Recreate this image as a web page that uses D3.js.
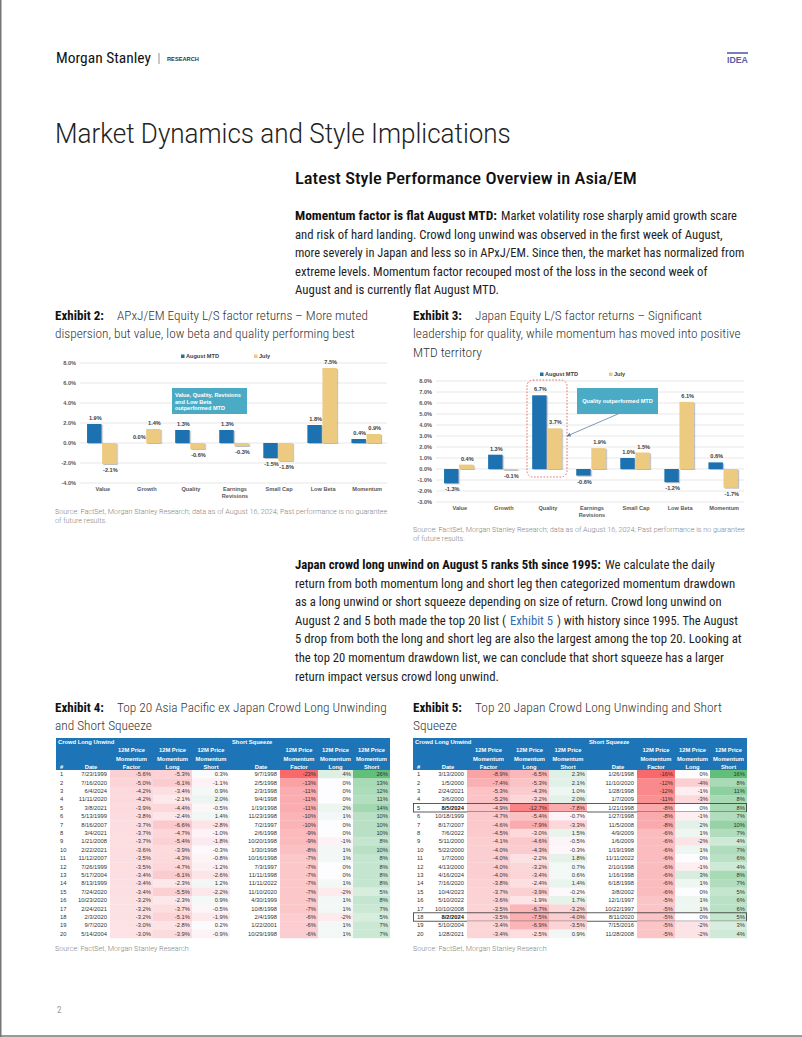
<!DOCTYPE html>
<html><head><meta charset="utf-8">
<script src="https://cdn.jsdelivr.net/npm/d3@7"></script>
<style>html,body{margin:0;padding:0;background:#fff;}svg{display:block;}</style>
</head><body>
<script>
// ---------------- DATA ----------------
const factorCats = ["Value","Growth","Quality","Earnings Revisions","Small Cap","Low Beta","Momentum"];
const seriesNames = ["August MTD","July"];
const apxjAugust = [1.9, 0.0, 1.3, 1.3, -1.5, 1.8, 0.4];
const apxjJuly   = [-2.1, 1.4, -0.6, -0.3, -1.8, 7.5, 0.9];
const apxjTicks  = [-4, -2, 0, 2, 4, 6, 8];
const japanAugust = [-1.3, 1.3, 6.7, -0.6, 1.0, -1.2, 0.6];
const japanJuly   = [0.4, -0.1, 3.7, 1.9, 1.5, 6.1, -1.7];
const japanTicks  = [-3, -2, -1, 0, 1, 2, 3, 4, 5, 6, 7, 8];

// Exhibit 4: APxJ
const apxjLongDates  = ["7/23/1999","7/16/2020","6/4/2024","11/11/2020","3/8/2021","5/13/1999","8/16/2007","3/4/2021","1/21/2008","2/22/2021","11/12/2007","7/26/1999","5/17/2004","8/13/1999","7/24/2020","10/23/2020","2/24/2021","2/3/2020","9/7/2020","5/14/2004"];
const apxjLongFactor = [-5.6,-5.0,-4.2,-4.2,-3.9,-3.8,-3.7,-3.7,-3.7,-3.6,-3.5,-3.5,-3.4,-3.4,-3.4,-3.2,-3.2,-3.2,-3.0,-3.0];
const apxjLongLong   = [-5.3,-6.1,-3.4,-2.1,-4.4,-2.4,-6.6,-4.7,-5.4,-3.9,-4.3,-4.7,-6.1,-2.3,-5.5,-2.3,-3.7,-5.1,-2.8,-3.9];
const apxjLongShort  = [0.3,-1.1,0.9,2.0,-0.5,1.4,-2.8,-1.0,-1.8,-0.3,-0.8,-1.2,-2.6,1.2,-2.2,0.9,-0.5,-1.9,0.2,-0.9];
const apxjSqDates    = ["9/7/1998","2/5/1998","2/3/1998","9/4/1998","1/19/1998","11/23/1998","7/2/1997","2/6/1998","10/20/1998","1/30/1998","10/16/1998","7/3/1997","11/11/1998","11/11/2022","11/10/2020","4/30/1999","10/8/1998","2/4/1998","1/22/2001","10/29/1998"];
const apxjSqFactor   = [-23,-13,-11,-11,-11,-10,-10,-9,-9,-8,-7,-7,-7,-7,-7,-7,-7,-6,-6,-6];
const apxjSqLong     = [4,0,0,0,2,1,0,0,-1,1,1,0,0,1,-2,1,1,-2,1,1];
const apxjSqShort    = [26,13,12,11,14,10,10,10,8,10,8,8,8,8,5,8,7,5,7,7];

// Exhibit 5: Japan
const japanLongDates  = ["3/13/2000","1/5/2000","2/24/2021","3/6/2000","8/5/2024","10/18/1999","8/17/2007","7/6/2022","5/11/2000","5/22/2000","1/7/2000","4/13/2000","4/16/2024","7/16/2020","10/4/2023","5/10/2022","10/10/2008","8/2/2024","5/10/2004","1/28/2021"];
const japanLongFactor = [-8.9,-7.4,-5.3,-5.2,-4.9,-4.7,-4.6,-4.5,-4.1,-4.0,-4.0,-4.0,-4.0,-3.8,-3.7,-3.6,-3.5,-3.5,-3.4,-3.4];
const japanLongLong   = [-6.5,-5.3,-4.3,-3.2,-12.7,-5.4,-7.9,-3.0,-4.6,-4.3,-2.2,-3.2,-3.4,-2.4,-3.9,-1.9,-6.7,-7.5,-6.9,-2.5];
const japanLongShort  = [2.3,2.1,1.0,2.0,-7.8,-0.7,-3.3,1.5,-0.5,-0.3,1.8,0.7,0.6,1.4,-0.2,1.7,-3.2,-4.0,-3.5,0.9];
const japanSqDates    = ["1/26/1998","11/10/2020","1/28/1998","1/7/2009","1/21/1998","1/27/1998","11/5/2008","4/9/2009","1/6/2009","1/19/1998","11/11/2022","2/10/1998","1/16/1998","6/18/1998","3/8/2002","12/1/1997","10/22/1997","8/11/2020","7/15/2016","11/28/2008"];
const japanSqFactor   = [-16,-12,-12,-11,-8,-8,-8,-6,-6,-6,-6,-6,-6,-6,-6,-5,-5,-5,-5,-5];
const japanSqLong     = [0,-4,-1,-3,0,-1,2,1,-2,1,0,-1,3,1,0,1,1,0,-2,-2];
const japanSqShort    = [16,8,11,8,8,7,10,7,4,7,6,4,8,7,5,6,6,5,3,4];
const japanHighlightRows = [5, 18];

// ---------------- STYLE ----------------
const W = 802, H = 1037;
const BLUE = "#1a71b0", GOLD = "#eccb81", TEAL = "#4cabc4", HDR = "#1d74b6";
const chartFont = "'Liberation Sans', Arial, sans-serif";
const pct = f => v => d3.format(f)(v).replace("\u2212", "-") + "%";

// pick a narrow body font if one is installed
function installed(name) {
  const c = document.createElement("canvas").getContext("2d");
  const s = "Momentum factor is flat August MTD 0123456789";
  c.font = "20px monospace"; const a = c.measureText(s).width;
  c.font = `20px '${name}', monospace`; const b = c.measureText(s).width;
  return Math.abs(a - b) > 0.5;
}
const narrow = ["Roboto Condensed", "Liberation Sans Narrow", "Open Sans Condensed", "DejaVu Sans Condensed"].find(installed);
const bodyFont = (narrow ? `'${narrow}', ` : "") + "Roboto, 'Open Sans', sans-serif";

const svg = d3.select("body").append("svg").attr("width", W).attr("height", H)
  .attr("viewBox", `0 0 ${W} ${H}`);
svg.append("rect").attr("width", W).attr("height", H).attr("fill", "#fff");
const defs = svg.append("defs");
const f = defs.append("filter").attr("id","shadow").attr("x","-20%").attr("y","-20%").attr("width","150%").attr("height","150%");
f.append("feDropShadow").attr("dx",1.2).attr("dy",1).attr("stdDeviation",0.7).attr("flood-color","#888").attr("flood-opacity",0.55);
defs.append("marker").attr("id","arrow").attr("viewBox","0 0 10 10").attr("refX",9).attr("refY",5)
  .attr("markerWidth",5).attr("markerHeight",5).attr("orient","auto")
  .append("path").attr("d","M0,0L10,5L0,10z").attr("fill","#5a7fa6");

// text helper: text fitted to a measured width via a horizontal scale
function textLine(x, y, str, opt) {
  opt = opt || {};
  const t = svg.append("text").attr("x", 0).attr("y", 0)
    .attr("font-family", opt.family || bodyFont)
    .attr("font-size", opt.size || 12.5)
    .attr("font-weight", opt.weight || 400)
    .attr("fill", opt.fill || "#1e1e1e")
    .text(str);
  let sx = 1;
  if (opt.w) {
    const len = t.node().getComputedTextLength();
    if (len > 0) sx = opt.w / len;
  }
  t.attr("transform", `translate(${x},${y}) scale(${sx},1)`);
  return t;
}
function segLine(y, segs, base) {
  segs.forEach(s => textLine(s[1], y, s[0], Object.assign({}, base, s[3] || {}, {w: s[2] - s[1]})));
}

// ---------------- HEADER ----------------
textLine(56, 63, "Morgan Stanley", {size: 14.5, w: 95, fill: "#111"});
svg.append("line").attr("x1",159).attr("x2",159).attr("y1",53).attr("y2",64).attr("stroke","#777").attr("stroke-width",0.8);
textLine(167, 60.5, "RESEARCH", {size: 5.5, weight: 700, w: 32, fill: "#333", family: chartFont});
svg.append("line").attr("x1",727).attr("x2",748).attr("y1",53).attr("y2",53).attr("stroke","#5a5ea8").attr("stroke-width",1.6);
textLine(727, 63, "IDEA", {size: 9, weight: 700, w: 21, fill: "#5a5ea8", family: chartFont});

textLine(55, 143, "Market Dynamics and Style Implications", {size: 27, weight: 300, w: 456, fill: "#222", family: "Roboto, sans-serif"});
textLine(295, 184, "Latest Style Performance Overview in Asia/EM", {size: 16, weight: 500, w: 342, fill: "#111"});

// Paragraph 1
const B = {weight: 700, fill: "#111"};
segLine(220, [["Momentum factor is flat August MTD:", 295, 497, B], ["Market volatility rose sharply amid growth scare", 501, 737]]);
segLine(238.5, [["and risk of hard landing. Crowd long unwind was observed in the first week of August,", 295, 723]]);
segLine(257, [["more severely in Japan and less so in APxJ/EM. Since then, the market has normalized from", 295, 745]]);
segLine(275.5, [["extreme levels. Momentum factor recouped most of the loss in the second week of", 295, 708]]);
segLine(294, [["August and is currently flat August MTD.", 295, 499]]);

// Exhibit titles
function exhibitTitle(x, y, num, lines) {
  textLine(x, y, `Exhibit ${num}:`, {w: 49, weight: 700, fill: "#111"});
  lines.forEach((l, i) => {
    const lx = i === 0 ? x + 62 : x;
    textLine(lx, y + i * 18.5, l[0], {w: l[1], weight: 300, fill: "#333"});
  });
}
exhibitTitle(55, 319.5, 2, [["APxJ/EM Equity L/S factor returns – More muted", 251], ["dispersion, but value, low beta and quality performing best", 300]]);
exhibitTitle(413, 319.5, 3, [["Japan Equity L/S factor returns – Significant", 227], ["leadership for quality, while momentum has moved into positive", 328], ["MTD territory", 69]]);

// ---------------- BAR CHARTS ----------------
function barChart(cfg) {
  const g = svg.append("g");
  const x0 = d3.scaleBand().domain(factorCats).range(cfg.xr).paddingInner(0.33).paddingOuter(0.16);
  const x1 = d3.scaleBand().domain(seriesNames).range([0, x0.bandwidth()]).paddingInner(0.04);
  const y = d3.scaleLinear().domain(cfg.yd).range(cfg.yr);
  g.selectAll(".grid").data(cfg.ticks).join("line")
    .attr("x1", cfg.gx[0]).attr("x2", cfg.gx[1])
    .attr("y1", d => y(d)).attr("y2", d => y(d))
    .attr("stroke", "#dcdcdc").attr("stroke-width", 0.7);
  const ax = d3.axisLeft(y).tickValues(cfg.ticks).tickSize(0).tickFormat(pct(".1f"));
  const axg = g.append("g").attr("transform", `translate(${cfg.gx[0] - 4},0)`).call(ax);
  axg.select(".domain").remove();
  axg.selectAll("text").attr("font-family", chartFont).attr("font-size", 5.6).attr("font-weight", 700).attr("fill", "#595959").attr("x", 0);
  const series = [cfg.aug, cfg.jul];
  const colors = [BLUE, GOLD];
  series.forEach((vals, si) => {
    const data = factorCats.map((c, i) => ({c, v: vals[i]}));
    g.selectAll(null).data(data).join("rect")
      .attr("x", d => x0(d.c) + x1(seriesNames[si]))
      .attr("width", x1.bandwidth())
      .attr("y", d => y(Math.max(0, d.v)))
      .attr("height", d => Math.abs(y(d.v) - y(0)))
      .attr("fill", colors[si]).attr("filter", "url(#shadow)");
    g.selectAll(null).data(data).join("text")
      .attr("x", d => x0(d.c) + x1(seriesNames[si]) + x1.bandwidth() / 2 + 1)
      .attr("y", d => d.v >= 0 ? y(d.v) - 4 : y(d.v) + 8)
      .attr("text-anchor", "middle").attr("font-family", chartFont).attr("font-size", 5.6)
      .attr("font-weight", 700).attr("fill", "#404040")
      .text(d => pct(".1f")(d.v));
  });
  factorCats.forEach(c => {
    const words = c === "Earnings Revisions" ? ["Earnings", "Revisions"] : [c];
    words.forEach((w, i) => {
      g.append("text").attr("x", x0(c) + x0.bandwidth() / 2 + 1).attr("y", cfg.catY + i * 6.5)
        .attr("text-anchor", "middle").attr("font-family", chartFont).attr("font-size", 5.6)
        .attr("font-weight", 700).attr("fill", "#595959").text(w);
    });
  });
  seriesNames.forEach((s, i) => {
    const lx = cfg.legX[i];
    g.append("rect").attr("x", lx).attr("y", cfg.legY - 3.5).attr("width", 3.5).attr("height", 3.5).attr("fill", colors[i]);
    g.append("text").attr("x", lx + 5).attr("y", cfg.legY).attr("font-family", chartFont).attr("font-size", 5.6)
      .attr("font-weight", 700).attr("fill", "#404040").text(s);
  });
  return {g, x0, y};
}

const c1 = barChart({xr: [80, 388], yd: [-4, 8], yr: [483, 363], ticks: apxjTicks, gx: [80, 387],
  aug: apxjAugust, jul: apxjJuly, catY: 491, legX: [181, 254], legY: 358});
c1.g.append("rect").attr("x", 172).attr("y", 388).attr("width", 75).attr("height", 26).attr("fill", TEAL);
["Value, Quality, Revisions", "and Low Beta", "outperformed MTD"].forEach((t, i) =>
  c1.g.append("text").attr("x", 175).attr("y", 397 + i * 6.5).attr("font-family", chartFont)
    .attr("font-size", 5.6).attr("font-weight", 700).attr("fill", "#fff").text(t));

const c2 = barChart({xr: [437, 745], yd: [-3, 8], yr: [502, 381], ticks: japanTicks, gx: [436, 744],
  aug: japanAugust, jul: japanJuly, catY: 510, legX: [540, 609], legY: 376});
c2.g.append("rect").attr("x", 527).attr("y", 380).attr("width", 40).attr("height", 97).attr("rx", 6)
  .attr("fill", "none").attr("stroke", "#e06060").attr("stroke-width", 0.9).attr("stroke-dasharray", "1.6,1.6");
c2.g.append("rect").attr("x", 577).attr("y", 388).attr("width", 81).attr("height", 26).attr("fill", TEAL);
c2.g.append("text").attr("x", 617.5).attr("y", 403).attr("text-anchor", "middle").attr("font-family", chartFont)
  .attr("font-size", 5.6).attr("font-weight", 700).attr("fill", "#fff").text("Quality outperformed MTD");
c2.g.append("line").attr("x1", 618).attr("y1", 414).attr("x2", 567).attr("y2", 436)
  .attr("stroke", "#5a7fa6").attr("stroke-width", 0.8).attr("marker-end", "url(#arrow)");

// Sources
const srcTxt = "Source: FactSet, Morgan Stanley Research; data as of August 16, 2024; Past performance is no guarantee";
const S = {size: 7, fill: "#7f7f7f", weight: 300, family: "Roboto, sans-serif"};
textLine(55, 513.5, srcTxt, Object.assign({w: 333}, S));
textLine(55, 522.5, "of future results.", Object.assign({w: 52}, S));
textLine(413, 531.5, srcTxt, Object.assign({w: 332}, S));
textLine(413, 540.5, "of future results.", Object.assign({w: 52}, S));

// Paragraph 2
const LINK = {fill: "#2f6db5"};
const p2y = i => 569 + i * 18.6;
segLine(p2y(0), [["Japan crowd long unwind on August 5 ranks 5th since 1995:", 295, 601, B], ["We calculate the daily", 605, 715]]);
segLine(p2y(1), [["return from both momentum long and short leg then categorized momentum drawdown", 295, 736]]);
segLine(p2y(2), [["as a long unwind or short squeeze depending on size of return. Crowd long unwind on", 295, 722]]);
segLine(p2y(3), [["August 2 and 5 both made the top 20 list (", 295, 506], ["Exhibit 5", 510, 553, LINK], [") with history since 1995. The August", 557, 738]]);
segLine(p2y(4), [["5 drop from both the long and short leg are also the largest among the top 20. Looking at", 295, 742]]);
segLine(p2y(5), [["the top 20 momentum drawdown list, we can conclude that short squeeze has a larger", 295, 724]]);
segLine(p2y(6), [["return impact versus crowd long unwind.", 295, 499]]);

exhibitTitle(55, 711.5, 4, [["Top 20 Asia Pacific ex Japan Crowd Long Unwinding", 270], ["and Short Squeeze", 97]]);
exhibitTitle(413, 711.5, 5, [["Top 20 Japan Crowd Long Unwinding and Short", 247], ["Squeeze", 44]]);

// ---------------- TABLES ----------------
function table(x0, d, highlight) {
  const g = svg.append("g").attr("transform", `translate(${x0},0)`);
  const top = 738, hdrH = 32, rowH = 8.4, tw = 334;
  const all = [...d.lf, ...d.ll, ...d.ls, ...d.sf, ...d.sl, ...d.ss];
  const mn = d3.min(all), mx = d3.max(all);
  const neg = d3.scaleLinear().domain([0, mn]).range([0, 1]);
  const pos = d3.scaleLinear().domain([0, mx]).range([0, 1]);
  const col = v => v < 0 ? d3.interpolateRgb("#fdfcff", "#f8696b")(Math.pow(neg(v), 0.85))
                         : d3.interpolateRgb("#fdfcff", "#63be7b")(Math.pow(pos(v), 0.85));
  g.append("rect").attr("x", 0).attr("y", top).attr("width", tw).attr("height", hdrH).attr("fill", HDR);
  const hs = {"font-family": chartFont, "font-size": 5.8, "font-weight": 700, fill: "#fff"};
  const ht = (x, y, t, anchor) => { const e = g.append("text").attr("x", x).attr("y", y).attr("text-anchor", anchor || "middle").text(t); Object.entries(hs).forEach(([k, v]) => e.attr(k, v)); };
  ht(2, 743.5, "Crowd Long Unwind", "start");
  ht(176, 743.5, "Short Squeeze", "start");
  ht(4, 769, "#", "start");
  ht(35, 769, "Date");
  ht(205, 769, "Date");
  const numCols = [
    {key: "lf", l: 54, r: 97, lab: "Factor", fmt: ".1f"},
    {key: "ll", l: 97, r: 136, lab: "Long", fmt: ".1f"},
    {key: "ls", l: 136, r: 174, lab: "Short", fmt: ".1f"},
    {key: "sf", l: 224, r: 262, lab: "Factor", fmt: ".0f"},
    {key: "sl", l: 262, r: 297, lab: "Long", fmt: ".0f"},
    {key: "ss", l: 297, r: tw, lab: "Short", fmt: ".0f"}
  ];
  numCols.forEach(c => {
    const cx = (c.l + c.r) / 2;
    ht(cx, 752, "12M Price"); ht(cx, 760.5, "Momentum"); ht(cx, 769, c.lab);
  });
  const rs = {"font-family": chartFont, "font-size": 5.8, fill: "#333"};
  const rt = (x, y, t, anchor, bold) => { const e = g.append("text").attr("x", x).attr("y", y).attr("text-anchor", anchor).text(t); Object.entries(rs).forEach(([k, v]) => e.attr(k, v)); if (bold) e.attr("font-weight", 700).attr("fill", "#111"); };
  d.ld.forEach((dt, i) => {
    const ry = top + hdrH + i * rowH;
    numCols.forEach(c => {
      g.append("rect").attr("x", c.l).attr("y", ry).attr("width", c.r - c.l).attr("height", rowH + 0.2).attr("fill", col(d[c.key][i]));
    });
    const by = ry + 6.2;
    const hl = highlight.includes(i + 1);
    rt(4, by, String(i + 1), "start");
    rt(51, by, dt, "end", hl);
    rt(221, by, d.sd[i], "end");
    numCols.forEach(c => rt(c.r - 2, by, pct(c.fmt)(d[c.key][i]), "end"));
    if (hl) g.append("rect").attr("x", 0.5).attr("y", ry).attr("width", tw - 1).attr("height", rowH)
      .attr("fill", "none").attr("stroke", "#333").attr("stroke-width", 0.8);
  });
}
table(56, {ld: apxjLongDates, lf: apxjLongFactor, ll: apxjLongLong, ls: apxjLongShort,
  sd: apxjSqDates, sf: apxjSqFactor, sl: apxjSqLong, ss: apxjSqShort}, []);
table(413, {ld: japanLongDates, lf: japanLongFactor, ll: japanLongLong, ls: japanLongShort,
  sd: japanSqDates, sf: japanSqFactor, sl: japanSqLong, ss: japanSqShort}, japanHighlightRows);

textLine(55, 950.5, "Source: FactSet, Morgan Stanley Research", Object.assign({w: 134}, S));
textLine(413, 950.5, "Source: FactSet, Morgan Stanley Research", Object.assign({w: 134}, S));

// footer
textLine(57, 1013, "2", {size: 9, fill: "#9a9a9a"});
svg.append("line").attr("x1", 0.75).attr("x2", 0.75).attr("y1", 0).attr("y2", H).attr("stroke", "#777").attr("stroke-width", 1.5);
svg.append("line").attr("x1", 0).attr("x2", W).attr("y1", H - 1).attr("y2", H - 1).attr("stroke", "#777").attr("stroke-width", 1.5);
</script>
</body></html>
